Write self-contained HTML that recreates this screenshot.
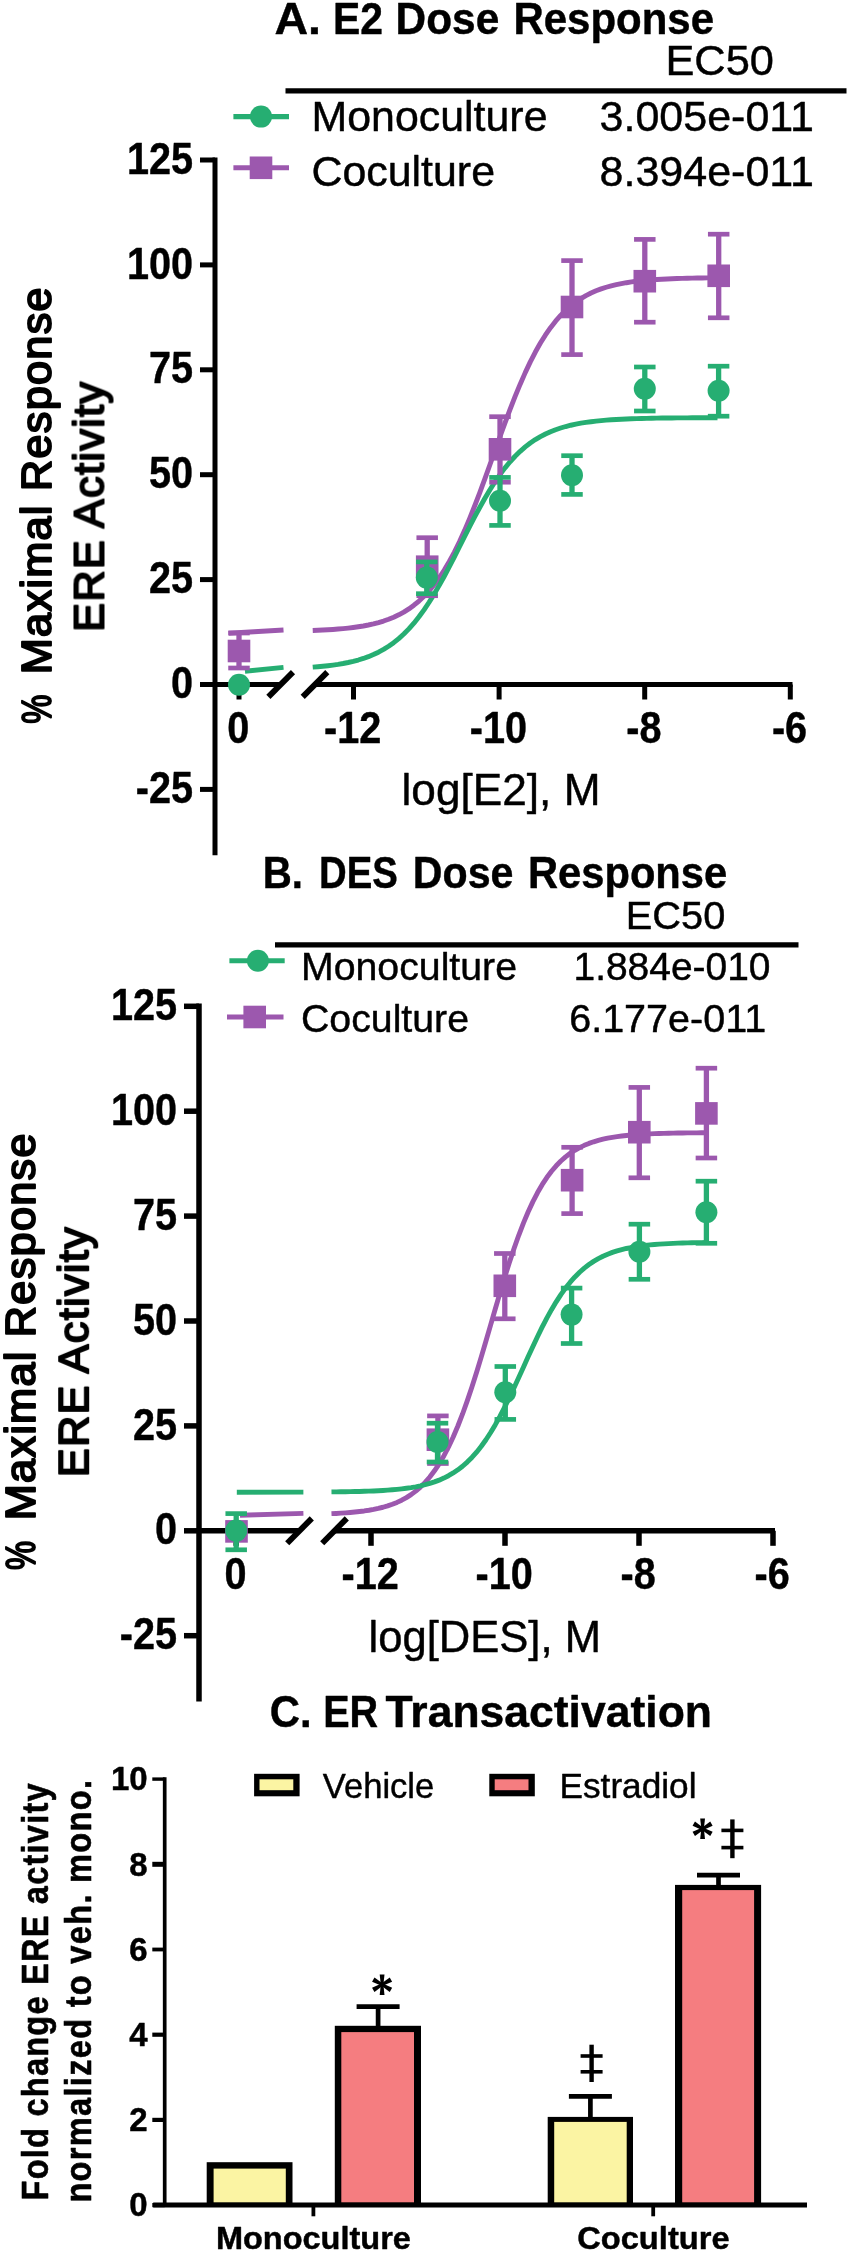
<!DOCTYPE html>
<html><head><meta charset="utf-8"><title>Figure</title>
<style>
html,body{margin:0;padding:0;background:#fff;}
body{width:850px;height:2253px;overflow:hidden;font-family:"Liberation Sans",sans-serif;}
svg{display:block;will-change:transform;}
text{font-family:"Liberation Sans",sans-serif;}
</style></head><body>
<svg width="850" height="2253" viewBox="0 0 850 2253" font-family="'Liberation Sans', sans-serif" fill="#000">
<defs><filter id="soft" filterUnits="userSpaceOnUse" x="0" y="0" width="850" height="2253"><feGaussianBlur stdDeviation="0.45"/></filter></defs>
<rect width="850" height="2253" fill="#fff"/>
<g filter="url(#soft)">
<text x="274.4" y="33.9" font-size="45" font-weight="bold" text-anchor="start" textLength="46.6" lengthAdjust="spacingAndGlyphs" stroke="#000" stroke-width="0.45" stroke-linejoin="round">A.</text>
<text x="333" y="33.9" font-size="45" font-weight="bold" text-anchor="start" textLength="50" lengthAdjust="spacingAndGlyphs" stroke="#000" stroke-width="0.45" stroke-linejoin="round">E2</text>
<text x="395.6" y="33.9" font-size="45" font-weight="bold" text-anchor="start" textLength="103.6" lengthAdjust="spacingAndGlyphs" stroke="#000" stroke-width="0.45" stroke-linejoin="round">Dose</text>
<text x="513.4" y="33.9" font-size="45" font-weight="bold" text-anchor="start" textLength="200.6" lengthAdjust="spacingAndGlyphs" stroke="#000" stroke-width="0.45" stroke-linejoin="round">Response</text>
<text x="665.4" y="75.3" font-size="42.89" font-weight="normal" text-anchor="start" textLength="108.5" lengthAdjust="spacingAndGlyphs" stroke="#000" stroke-width="0.45" stroke-linejoin="round">EC50</text>
<line x1="285.5" y1="90.8" x2="846.5" y2="90.8" stroke="#000" stroke-width="5.3" stroke-linecap="butt"/>
<text x="311.5" y="130.8" font-size="42.89" font-weight="normal" text-anchor="start" textLength="236" lengthAdjust="spacingAndGlyphs" stroke="#000" stroke-width="0.45" stroke-linejoin="round">Monoculture</text>
<text x="311.5" y="185.8" font-size="42.89" font-weight="normal" text-anchor="start" textLength="183.5" lengthAdjust="spacingAndGlyphs" stroke="#000" stroke-width="0.45" stroke-linejoin="round">Coculture</text>
<text x="599.5" y="130.8" font-size="42.89" font-weight="normal" text-anchor="start" textLength="214.5" lengthAdjust="spacingAndGlyphs" stroke="#000" stroke-width="0.45" stroke-linejoin="round">3.005e-011</text>
<text x="599.5" y="185.8" font-size="42.89" font-weight="normal" text-anchor="start" textLength="214.5" lengthAdjust="spacingAndGlyphs" stroke="#000" stroke-width="0.45" stroke-linejoin="round">8.394e-011</text>
<line x1="233.4" y1="116.6" x2="289" y2="116.6" stroke="#27AE72" stroke-width="5.1" stroke-linecap="butt"/>
<circle cx="261" cy="116.6" r="11" fill="#27AE72"/>
<line x1="233.4" y1="167.8" x2="289" y2="167.8" stroke="#9C59AE" stroke-width="5.1" stroke-linecap="butt"/>
<rect x="249.7" y="156.5" width="22.6" height="22.6" fill="#9C59AE"/>
<line x1="215" y1="157.5" x2="215" y2="855.2" stroke="#000" stroke-width="5" stroke-linecap="butt"/>
<line x1="200" y1="160" x2="215" y2="160" stroke="#000" stroke-width="5" stroke-linecap="butt"/>
<text transform="translate(193 173.6) scale(0.89 1)" font-size="44.5" font-weight="bold" text-anchor="end" stroke="#000" stroke-width="0.45" stroke-linejoin="round">125</text>
<line x1="200" y1="264.9" x2="215" y2="264.9" stroke="#000" stroke-width="5" stroke-linecap="butt"/>
<text transform="translate(193 278.5) scale(0.89 1)" font-size="44.5" font-weight="bold" text-anchor="end" stroke="#000" stroke-width="0.45" stroke-linejoin="round">100</text>
<line x1="200" y1="369.8" x2="215" y2="369.8" stroke="#000" stroke-width="5" stroke-linecap="butt"/>
<text transform="translate(193 383.4) scale(0.89 1)" font-size="44.5" font-weight="bold" text-anchor="end" stroke="#000" stroke-width="0.45" stroke-linejoin="round">75</text>
<line x1="200" y1="474.7" x2="215" y2="474.7" stroke="#000" stroke-width="5" stroke-linecap="butt"/>
<text transform="translate(193 488.3) scale(0.89 1)" font-size="44.5" font-weight="bold" text-anchor="end" stroke="#000" stroke-width="0.45" stroke-linejoin="round">50</text>
<line x1="200" y1="579.6" x2="215" y2="579.6" stroke="#000" stroke-width="5" stroke-linecap="butt"/>
<text transform="translate(193 593.2) scale(0.89 1)" font-size="44.5" font-weight="bold" text-anchor="end" stroke="#000" stroke-width="0.45" stroke-linejoin="round">25</text>
<line x1="200" y1="684.5" x2="215" y2="684.5" stroke="#000" stroke-width="5" stroke-linecap="butt"/>
<text transform="translate(193 698.1) scale(0.89 1)" font-size="44.5" font-weight="bold" text-anchor="end" stroke="#000" stroke-width="0.45" stroke-linejoin="round">0</text>
<line x1="200" y1="789.4" x2="215" y2="789.4" stroke="#000" stroke-width="5" stroke-linecap="butt"/>
<text transform="translate(193 803) scale(0.89 1)" font-size="44.5" font-weight="bold" text-anchor="end" stroke="#000" stroke-width="0.45" stroke-linejoin="round">-25</text>
<line x1="215" y1="684.5" x2="280.7" y2="684.5" stroke="#000" stroke-width="5" stroke-linecap="butt"/>
<line x1="315" y1="684.5" x2="792.5" y2="684.5" stroke="#000" stroke-width="5" stroke-linecap="butt"/>
<line x1="268.4" y1="696.9" x2="293" y2="672.1" stroke="#000" stroke-width="5.8" stroke-linecap="butt"/>
<line x1="302.7" y1="696.9" x2="327.3" y2="672.1" stroke="#000" stroke-width="5.8" stroke-linecap="butt"/>
<line x1="239" y1="684.5" x2="239" y2="699.5" stroke="#000" stroke-width="5" stroke-linecap="butt"/>
<text transform="translate(238.2 743.1) scale(0.9 1)" font-size="44" font-weight="bold" text-anchor="middle" stroke="#000" stroke-width="0.45" stroke-linejoin="round">0</text>
<line x1="353.5" y1="684.5" x2="353.5" y2="699.5" stroke="#000" stroke-width="5" stroke-linecap="butt"/>
<text transform="translate(352.7 743.1) scale(0.9 1)" font-size="44" font-weight="bold" text-anchor="middle" stroke="#000" stroke-width="0.45" stroke-linejoin="round">-12</text>
<line x1="499.1" y1="684.5" x2="499.1" y2="699.5" stroke="#000" stroke-width="5" stroke-linecap="butt"/>
<text transform="translate(498.3 743.1) scale(0.9 1)" font-size="44" font-weight="bold" text-anchor="middle" stroke="#000" stroke-width="0.45" stroke-linejoin="round">-10</text>
<line x1="644.7" y1="684.5" x2="644.7" y2="699.5" stroke="#000" stroke-width="5" stroke-linecap="butt"/>
<text transform="translate(643.9 743.1) scale(0.9 1)" font-size="44" font-weight="bold" text-anchor="middle" stroke="#000" stroke-width="0.45" stroke-linejoin="round">-8</text>
<line x1="790.3" y1="684.5" x2="790.3" y2="699.5" stroke="#000" stroke-width="5" stroke-linecap="butt"/>
<text transform="translate(789.5 743.1) scale(0.9 1)" font-size="44" font-weight="bold" text-anchor="middle" stroke="#000" stroke-width="0.45" stroke-linejoin="round">-6</text>
<text x="401.5" y="804.7" font-size="44.5" font-weight="normal" text-anchor="start" textLength="199" lengthAdjust="spacingAndGlyphs" stroke="#000" stroke-width="0.45" stroke-linejoin="round">log[E2], M</text>
<line x1="228.6" y1="633.3" x2="283.5" y2="630" stroke="#9C59AE" stroke-width="4.9" stroke-linecap="butt"/>
<polyline points="312.73,630.47 317.79,630.27 322.85,630.04 327.91,629.76 332.97,629.44 338.03,629.06 343.09,628.62 348.15,628.1 353.21,627.5 358.27,626.79 363.33,625.97 368.39,625 373.45,623.88 378.51,622.56 383.57,621.04 388.63,619.26 393.69,617.2 398.75,614.82 403.8,612.06 408.86,608.89 413.92,605.23 418.98,601.05 424.04,596.27 429.1,590.84 434.16,584.7 439.22,577.79 444.28,570.07 449.34,561.5 454.4,552.07 459.46,541.77 464.52,530.62 469.58,518.68 474.64,506.03 479.7,492.78 484.76,479.06 489.82,465.04 494.88,450.88 499.94,436.78 505,422.89 510.06,409.4 515.12,396.44 520.18,384.15 525.24,372.61 530.29,361.9 535.35,352.04 540.41,343.06 545.47,334.94 550.53,327.64 555.59,321.14 560.65,315.38 565.71,310.29 570.77,305.83 575.83,301.93 580.89,298.53 585.95,295.58 591.01,293.02 596.07,290.81 601.13,288.9 606.19,287.26 611.25,285.85 616.31,284.64 621.37,283.6 626.43,282.71 631.49,281.95 636.55,281.29 641.61,280.74 646.67,280.26 651.73,279.85 656.78,279.5 661.84,279.21 666.9,278.95 671.96,278.74 677.02,278.55 682.08,278.4 687.14,278.26 692.2,278.15 697.26,278.05 702.32,277.97 707.38,277.9 712.44,277.84 717.5,277.79" fill="none" stroke="#9C59AE" stroke-width="4.9" stroke-linejoin="round"/>
<line x1="245" y1="671.2" x2="283.5" y2="667.4" stroke="#27AE72" stroke-width="4.9" stroke-linecap="butt"/>
<polyline points="312.73,667.11 317.79,666.72 322.85,666.26 327.91,665.72 332.97,665.09 338.03,664.36 343.09,663.51 348.15,662.51 353.21,661.36 358.27,660.02 363.33,658.46 368.39,656.66 373.45,654.58 378.51,652.18 383.57,649.43 388.63,646.28 393.69,642.7 398.75,638.63 403.8,634.04 408.86,628.89 413.92,623.16 418.98,616.81 424.04,609.84 429.1,602.26 434.16,594.09 439.22,585.39 444.28,576.2 449.34,566.63 454.4,556.78 459.46,546.75 464.52,536.69 469.58,526.71 474.64,516.94 479.7,507.5 484.76,498.48 489.82,489.96 494.88,481.99 499.94,474.63 505,467.88 510.06,461.76 515.12,456.23 520.18,451.29 525.24,446.89 530.29,443 535.35,439.57 540.41,436.57 545.47,433.95 550.53,431.68 555.59,429.7 560.65,427.99 565.71,426.51 570.77,425.24 575.83,424.14 580.89,423.2 585.95,422.39 591.01,421.7 596.07,421.11 601.13,420.6 606.19,420.17 611.25,419.8 616.31,419.48 621.37,419.21 626.43,418.98 631.49,418.78 636.55,418.61 641.61,418.47 646.67,418.34 651.73,418.24 656.78,418.15 661.84,418.07 666.9,418.01 671.96,417.95 677.02,417.91 682.08,417.87 687.14,417.83 692.2,417.8 697.26,417.78 702.32,417.76 707.38,417.74 712.44,417.72 717.5,417.71" fill="none" stroke="#27AE72" stroke-width="4.9" stroke-linejoin="round"/>
<line x1="239" y1="633" x2="239" y2="668" stroke="#9C59AE" stroke-width="5.3" stroke-linecap="butt"/>
<line x1="228.25" y1="633" x2="249.75" y2="633" stroke="#9C59AE" stroke-width="4.7" stroke-linecap="butt"/>
<line x1="228.25" y1="668" x2="249.75" y2="668" stroke="#9C59AE" stroke-width="4.7" stroke-linecap="butt"/>
<rect x="227.7" y="639.7" width="22.6" height="22.6" fill="#9C59AE"/>
<line x1="427.2" y1="537.7" x2="427.2" y2="595.7" stroke="#9C59AE" stroke-width="5.3" stroke-linecap="butt"/>
<line x1="416.45" y1="537.7" x2="437.95" y2="537.7" stroke="#9C59AE" stroke-width="4.7" stroke-linecap="butt"/>
<line x1="416.45" y1="595.7" x2="437.95" y2="595.7" stroke="#9C59AE" stroke-width="4.7" stroke-linecap="butt"/>
<rect x="415.9" y="555.4" width="22.6" height="22.6" fill="#9C59AE"/>
<line x1="500" y1="416.7" x2="500" y2="482.2" stroke="#9C59AE" stroke-width="5.3" stroke-linecap="butt"/>
<line x1="489.25" y1="416.7" x2="510.75" y2="416.7" stroke="#9C59AE" stroke-width="4.7" stroke-linecap="butt"/>
<line x1="489.25" y1="482.2" x2="510.75" y2="482.2" stroke="#9C59AE" stroke-width="4.7" stroke-linecap="butt"/>
<rect x="488.7" y="438" width="22.6" height="22.6" fill="#9C59AE"/>
<line x1="572" y1="260.6" x2="572" y2="354.6" stroke="#9C59AE" stroke-width="5.3" stroke-linecap="butt"/>
<line x1="561.25" y1="260.6" x2="582.75" y2="260.6" stroke="#9C59AE" stroke-width="4.7" stroke-linecap="butt"/>
<line x1="561.25" y1="354.6" x2="582.75" y2="354.6" stroke="#9C59AE" stroke-width="4.7" stroke-linecap="butt"/>
<rect x="560.7" y="295.7" width="22.6" height="22.6" fill="#9C59AE"/>
<line x1="644.8" y1="239.4" x2="644.8" y2="322.2" stroke="#9C59AE" stroke-width="5.3" stroke-linecap="butt"/>
<line x1="634.05" y1="239.4" x2="655.55" y2="239.4" stroke="#9C59AE" stroke-width="4.7" stroke-linecap="butt"/>
<line x1="634.05" y1="322.2" x2="655.55" y2="322.2" stroke="#9C59AE" stroke-width="4.7" stroke-linecap="butt"/>
<rect x="633.5" y="269.9" width="22.6" height="22.6" fill="#9C59AE"/>
<line x1="718.7" y1="234.2" x2="718.7" y2="317.8" stroke="#9C59AE" stroke-width="5.3" stroke-linecap="butt"/>
<line x1="707.95" y1="234.2" x2="729.45" y2="234.2" stroke="#9C59AE" stroke-width="4.7" stroke-linecap="butt"/>
<line x1="707.95" y1="317.8" x2="729.45" y2="317.8" stroke="#9C59AE" stroke-width="4.7" stroke-linecap="butt"/>
<rect x="707.4" y="264.5" width="22.6" height="22.6" fill="#9C59AE"/>
<circle cx="239" cy="684.7" r="11" fill="#27AE72"/>
<line x1="426.8" y1="561.9" x2="426.8" y2="593.7" stroke="#27AE72" stroke-width="5.3" stroke-linecap="butt"/>
<line x1="416.05" y1="561.9" x2="437.55" y2="561.9" stroke="#27AE72" stroke-width="4.7" stroke-linecap="butt"/>
<line x1="416.05" y1="593.7" x2="437.55" y2="593.7" stroke="#27AE72" stroke-width="4.7" stroke-linecap="butt"/>
<circle cx="426.8" cy="577.6" r="11" fill="#27AE72"/>
<line x1="500" y1="477.4" x2="500" y2="525.4" stroke="#27AE72" stroke-width="5.3" stroke-linecap="butt"/>
<line x1="489.25" y1="477.4" x2="510.75" y2="477.4" stroke="#27AE72" stroke-width="4.7" stroke-linecap="butt"/>
<line x1="489.25" y1="525.4" x2="510.75" y2="525.4" stroke="#27AE72" stroke-width="4.7" stroke-linecap="butt"/>
<circle cx="500" cy="500.8" r="11" fill="#27AE72"/>
<line x1="572" y1="455.7" x2="572" y2="494.4" stroke="#27AE72" stroke-width="5.3" stroke-linecap="butt"/>
<line x1="561.25" y1="455.7" x2="582.75" y2="455.7" stroke="#27AE72" stroke-width="4.7" stroke-linecap="butt"/>
<line x1="561.25" y1="494.4" x2="582.75" y2="494.4" stroke="#27AE72" stroke-width="4.7" stroke-linecap="butt"/>
<circle cx="572" cy="475.2" r="11" fill="#27AE72"/>
<line x1="644.8" y1="367" x2="644.8" y2="411" stroke="#27AE72" stroke-width="5.3" stroke-linecap="butt"/>
<line x1="634.05" y1="367" x2="655.55" y2="367" stroke="#27AE72" stroke-width="4.7" stroke-linecap="butt"/>
<line x1="634.05" y1="411" x2="655.55" y2="411" stroke="#27AE72" stroke-width="4.7" stroke-linecap="butt"/>
<circle cx="644.8" cy="388.7" r="11" fill="#27AE72"/>
<line x1="718.6" y1="366.2" x2="718.6" y2="416.2" stroke="#27AE72" stroke-width="5.3" stroke-linecap="butt"/>
<line x1="707.85" y1="366.2" x2="729.35" y2="366.2" stroke="#27AE72" stroke-width="4.7" stroke-linecap="butt"/>
<line x1="707.85" y1="416.2" x2="729.35" y2="416.2" stroke="#27AE72" stroke-width="4.7" stroke-linecap="butt"/>
<circle cx="718.6" cy="390.8" r="11" fill="#27AE72"/>
<text transform="translate(50.6 709.3) rotate(-90) scale(0.78 1)" font-size="42" font-weight="normal" text-anchor="middle" stroke="#000" stroke-width="1.9" stroke-linejoin="round">%</text>
<text transform="translate(50.6 480.8) rotate(-90) scale(1.03 1)" font-size="42" font-weight="normal" text-anchor="middle" textLength="375.53" lengthAdjust="spacing" stroke="#000" stroke-width="1.9" stroke-linejoin="round">Maximal Response</text>
<text transform="translate(103.5 506.9) rotate(-90) scale(1.03 1)" font-size="42" font-weight="normal" text-anchor="middle" textLength="242.72" lengthAdjust="spacing" stroke="#000" stroke-width="1.9" stroke-linejoin="round">ERE Activity</text>
<text x="262.8" y="887.5" font-size="45" font-weight="bold" text-anchor="start" textLength="40.2" lengthAdjust="spacingAndGlyphs" stroke="#000" stroke-width="0.45" stroke-linejoin="round">B.</text>
<text x="319" y="887.5" font-size="45" font-weight="bold" text-anchor="start" textLength="78.8" lengthAdjust="spacingAndGlyphs" stroke="#000" stroke-width="0.45" stroke-linejoin="round">DES</text>
<text x="412.8" y="887.5" font-size="45" font-weight="bold" text-anchor="start" textLength="100.6" lengthAdjust="spacingAndGlyphs" stroke="#000" stroke-width="0.45" stroke-linejoin="round">Dose</text>
<text x="528" y="887.5" font-size="45" font-weight="bold" text-anchor="start" textLength="199.2" lengthAdjust="spacingAndGlyphs" stroke="#000" stroke-width="0.45" stroke-linejoin="round">Response</text>
<text x="625.8" y="928.5" font-size="39.26" font-weight="normal" text-anchor="start" textLength="99.5" lengthAdjust="spacingAndGlyphs" stroke="#000" stroke-width="0.45" stroke-linejoin="round">EC50</text>
<line x1="275" y1="944.8" x2="798.5" y2="944.8" stroke="#000" stroke-width="5.3" stroke-linecap="butt"/>
<text x="301" y="980" font-size="39.26" font-weight="normal" text-anchor="start" textLength="216" lengthAdjust="spacingAndGlyphs" stroke="#000" stroke-width="0.45" stroke-linejoin="round">Monoculture</text>
<text x="301" y="1032.4" font-size="39.26" font-weight="normal" text-anchor="start" textLength="168" lengthAdjust="spacingAndGlyphs" stroke="#000" stroke-width="0.45" stroke-linejoin="round">Coculture</text>
<text x="573.5" y="980" font-size="39.26" font-weight="normal" text-anchor="start" textLength="197" lengthAdjust="spacingAndGlyphs" stroke="#000" stroke-width="0.45" stroke-linejoin="round">1.884e-010</text>
<text x="569.2" y="1032.4" font-size="39.26" font-weight="normal" text-anchor="start" textLength="197" lengthAdjust="spacingAndGlyphs" stroke="#000" stroke-width="0.45" stroke-linejoin="round">6.177e-011</text>
<line x1="229.4" y1="960.7" x2="284.7" y2="960.7" stroke="#27AE72" stroke-width="5.1" stroke-linecap="butt"/>
<circle cx="257.9" cy="960.7" r="11" fill="#27AE72"/>
<line x1="227" y1="1017" x2="283.5" y2="1017" stroke="#9C59AE" stroke-width="5.1" stroke-linecap="butt"/>
<rect x="243.4" y="1005.7" width="22.6" height="22.6" fill="#9C59AE"/>
<line x1="199" y1="1003.55" x2="199" y2="1701.6" stroke="#000" stroke-width="5.5" stroke-linecap="butt"/>
<line x1="184" y1="1006.3" x2="199" y2="1006.3" stroke="#000" stroke-width="5.5" stroke-linecap="butt"/>
<text transform="translate(177 1019.9) scale(0.89 1)" font-size="44.5" font-weight="bold" text-anchor="end" stroke="#000" stroke-width="0.45" stroke-linejoin="round">125</text>
<line x1="184" y1="1111.2" x2="199" y2="1111.2" stroke="#000" stroke-width="5.5" stroke-linecap="butt"/>
<text transform="translate(177 1124.8) scale(0.89 1)" font-size="44.5" font-weight="bold" text-anchor="end" stroke="#000" stroke-width="0.45" stroke-linejoin="round">100</text>
<line x1="184" y1="1216.1" x2="199" y2="1216.1" stroke="#000" stroke-width="5.5" stroke-linecap="butt"/>
<text transform="translate(177 1229.7) scale(0.89 1)" font-size="44.5" font-weight="bold" text-anchor="end" stroke="#000" stroke-width="0.45" stroke-linejoin="round">75</text>
<line x1="184" y1="1321" x2="199" y2="1321" stroke="#000" stroke-width="5.5" stroke-linecap="butt"/>
<text transform="translate(177 1334.6) scale(0.89 1)" font-size="44.5" font-weight="bold" text-anchor="end" stroke="#000" stroke-width="0.45" stroke-linejoin="round">50</text>
<line x1="184" y1="1425.9" x2="199" y2="1425.9" stroke="#000" stroke-width="5.5" stroke-linecap="butt"/>
<text transform="translate(177 1439.5) scale(0.89 1)" font-size="44.5" font-weight="bold" text-anchor="end" stroke="#000" stroke-width="0.45" stroke-linejoin="round">25</text>
<line x1="184" y1="1530.8" x2="199" y2="1530.8" stroke="#000" stroke-width="5.5" stroke-linecap="butt"/>
<text transform="translate(177 1544.4) scale(0.89 1)" font-size="44.5" font-weight="bold" text-anchor="end" stroke="#000" stroke-width="0.45" stroke-linejoin="round">0</text>
<line x1="184" y1="1635.7" x2="199" y2="1635.7" stroke="#000" stroke-width="5.5" stroke-linecap="butt"/>
<text transform="translate(177 1649.3) scale(0.89 1)" font-size="44.5" font-weight="bold" text-anchor="end" stroke="#000" stroke-width="0.45" stroke-linejoin="round">-25</text>
<line x1="199" y1="1530.8" x2="299.5" y2="1530.8" stroke="#000" stroke-width="5.5" stroke-linecap="butt"/>
<line x1="334.5" y1="1530.8" x2="775" y2="1530.8" stroke="#000" stroke-width="5.5" stroke-linecap="butt"/>
<line x1="287.2" y1="1543.2" x2="311.8" y2="1518.4" stroke="#000" stroke-width="5.8" stroke-linecap="butt"/>
<line x1="322.2" y1="1543.2" x2="346.8" y2="1518.4" stroke="#000" stroke-width="5.8" stroke-linecap="butt"/>
<line x1="236.2" y1="1530.8" x2="236.2" y2="1545.8" stroke="#000" stroke-width="5.5" stroke-linecap="butt"/>
<text transform="translate(235.4 1589.4) scale(0.9 1)" font-size="44" font-weight="bold" text-anchor="middle" stroke="#000" stroke-width="0.45" stroke-linejoin="round">0</text>
<line x1="371" y1="1530.8" x2="371" y2="1545.8" stroke="#000" stroke-width="5.5" stroke-linecap="butt"/>
<text transform="translate(370.2 1589.4) scale(0.9 1)" font-size="44" font-weight="bold" text-anchor="middle" stroke="#000" stroke-width="0.45" stroke-linejoin="round">-12</text>
<line x1="505" y1="1530.8" x2="505" y2="1545.8" stroke="#000" stroke-width="5.5" stroke-linecap="butt"/>
<text transform="translate(504.2 1589.4) scale(0.9 1)" font-size="44" font-weight="bold" text-anchor="middle" stroke="#000" stroke-width="0.45" stroke-linejoin="round">-10</text>
<line x1="639" y1="1530.8" x2="639" y2="1545.8" stroke="#000" stroke-width="5.5" stroke-linecap="butt"/>
<text transform="translate(638.2 1589.4) scale(0.9 1)" font-size="44" font-weight="bold" text-anchor="middle" stroke="#000" stroke-width="0.45" stroke-linejoin="round">-8</text>
<line x1="773" y1="1530.8" x2="773" y2="1545.8" stroke="#000" stroke-width="5.5" stroke-linecap="butt"/>
<text transform="translate(772.2 1589.4) scale(0.9 1)" font-size="44" font-weight="bold" text-anchor="middle" stroke="#000" stroke-width="0.45" stroke-linejoin="round">-6</text>
<text x="368.5" y="1651.6" font-size="44.5" font-weight="normal" text-anchor="start" textLength="232.5" lengthAdjust="spacingAndGlyphs" stroke="#000" stroke-width="0.45" stroke-linejoin="round">log[DES], M</text>
<line x1="240" y1="1515.3" x2="303.4" y2="1513.4" stroke="#9C59AE" stroke-width="4.9" stroke-linecap="butt"/>
<polyline points="331.47,1513.65 336.15,1513.43 340.83,1513.17 345.51,1512.86 350.2,1512.49 354.88,1512.06 359.56,1511.55 364.24,1510.95 368.92,1510.24 373.6,1509.4 378.29,1508.42 382.97,1507.25 387.65,1505.89 392.33,1504.28 397.01,1502.4 401.69,1500.2 406.38,1497.62 411.06,1494.62 415.74,1491.12 420.42,1487.07 425.1,1482.39 429.78,1477.01 434.47,1470.85 439.15,1463.83 443.83,1455.89 448.51,1446.96 453.19,1437.01 457.87,1426.01 462.56,1413.98 467.24,1400.94 471.92,1386.99 476.6,1372.24 481.28,1356.84 485.96,1340.99 490.65,1324.89 495.33,1308.78 500.01,1292.87 504.69,1277.4 509.37,1262.54 514.05,1248.46 518.74,1235.29 523.42,1223.11 528.1,1211.96 532.78,1201.86 537.46,1192.79 542.14,1184.71 546.82,1177.56 551.51,1171.28 556.19,1165.79 560.87,1161.02 565.55,1156.88 570.23,1153.31 574.91,1150.24 579.6,1147.6 584.28,1145.35 588.96,1143.42 593.64,1141.78 598.32,1140.38 603,1139.19 607.69,1138.18 612.37,1137.33 617.05,1136.6 621.73,1135.98 626.41,1135.46 631.09,1135.02 635.78,1134.65 640.46,1134.33 645.14,1134.06 649.82,1133.83 654.5,1133.64 659.18,1133.48 663.87,1133.34 668.55,1133.23 673.23,1133.13 677.91,1133.05 682.59,1132.98 687.27,1132.92 691.96,1132.87 696.64,1132.83 701.32,1132.79 706,1132.76" fill="none" stroke="#9C59AE" stroke-width="4.9" stroke-linejoin="round"/>
<line x1="236.8" y1="1492.3" x2="303.4" y2="1492.1" stroke="#27AE72" stroke-width="4.9" stroke-linecap="butt"/>
<polyline points="331.47,1491.92 336.15,1491.87 340.83,1491.81 345.51,1491.74 350.2,1491.65 354.88,1491.56 359.56,1491.44 364.24,1491.31 368.92,1491.15 373.6,1490.96 378.29,1490.74 382.97,1490.48 387.65,1490.17 392.33,1489.81 397.01,1489.38 401.69,1488.88 406.38,1488.29 411.06,1487.6 415.74,1486.79 420.42,1485.84 425.1,1484.73 429.78,1483.43 434.47,1481.91 439.15,1480.15 443.83,1478.1 448.51,1475.73 453.19,1472.98 457.87,1469.83 462.56,1466.22 467.24,1462.1 471.92,1457.43 476.6,1452.17 481.28,1446.28 485.96,1439.73 490.65,1432.53 495.33,1424.68 500.01,1416.21 504.69,1407.17 509.37,1397.64 514.05,1387.72 518.74,1377.52 523.42,1367.19 528.1,1356.85 532.78,1346.65 537.46,1336.73 542.14,1327.19 546.82,1318.15 551.51,1309.68 556.19,1301.82 560.87,1294.62 565.55,1288.07 570.23,1282.18 574.91,1276.91 579.6,1272.24 584.28,1268.12 588.96,1264.5 593.64,1261.35 598.32,1258.6 603,1256.23 607.69,1254.18 612.37,1252.41 617.05,1250.89 621.73,1249.59 626.41,1248.48 631.09,1247.53 635.78,1246.72 640.46,1246.03 645.14,1245.44 649.82,1244.93 654.5,1244.51 659.18,1244.15 663.87,1243.84 668.55,1243.58 673.23,1243.35 677.91,1243.17 682.59,1243.01 687.27,1242.87 691.96,1242.76 696.64,1242.66 701.32,1242.58 706,1242.5" fill="none" stroke="#27AE72" stroke-width="4.9" stroke-linejoin="round"/>
<rect x="225.2" y="1520.1" width="22.6" height="22.6" fill="#9C59AE"/>
<line x1="437.9" y1="1415.9" x2="437.9" y2="1463.5" stroke="#9C59AE" stroke-width="5.3" stroke-linecap="butt"/>
<line x1="427.15" y1="1415.9" x2="448.65" y2="1415.9" stroke="#9C59AE" stroke-width="4.7" stroke-linecap="butt"/>
<line x1="427.15" y1="1463.5" x2="448.65" y2="1463.5" stroke="#9C59AE" stroke-width="4.7" stroke-linecap="butt"/>
<rect x="426.6" y="1428.4" width="22.6" height="22.6" fill="#9C59AE"/>
<line x1="504.8" y1="1253.5" x2="504.8" y2="1318.8" stroke="#9C59AE" stroke-width="5.3" stroke-linecap="butt"/>
<line x1="494.05" y1="1253.5" x2="515.55" y2="1253.5" stroke="#9C59AE" stroke-width="4.7" stroke-linecap="butt"/>
<line x1="494.05" y1="1318.8" x2="515.55" y2="1318.8" stroke="#9C59AE" stroke-width="4.7" stroke-linecap="butt"/>
<rect x="493.5" y="1274.5" width="22.6" height="22.6" fill="#9C59AE"/>
<line x1="572.1" y1="1147.3" x2="572.1" y2="1213.6" stroke="#9C59AE" stroke-width="5.3" stroke-linecap="butt"/>
<line x1="561.35" y1="1147.3" x2="582.85" y2="1147.3" stroke="#9C59AE" stroke-width="4.7" stroke-linecap="butt"/>
<line x1="561.35" y1="1213.6" x2="582.85" y2="1213.6" stroke="#9C59AE" stroke-width="4.7" stroke-linecap="butt"/>
<rect x="560.8" y="1168.9" width="22.6" height="22.6" fill="#9C59AE"/>
<line x1="639.3" y1="1087.4" x2="639.3" y2="1177.8" stroke="#9C59AE" stroke-width="5.3" stroke-linecap="butt"/>
<line x1="628.55" y1="1087.4" x2="650.05" y2="1087.4" stroke="#9C59AE" stroke-width="4.7" stroke-linecap="butt"/>
<line x1="628.55" y1="1177.8" x2="650.05" y2="1177.8" stroke="#9C59AE" stroke-width="4.7" stroke-linecap="butt"/>
<rect x="628" y="1120.9" width="22.6" height="22.6" fill="#9C59AE"/>
<line x1="706.4" y1="1068.2" x2="706.4" y2="1158" stroke="#9C59AE" stroke-width="5.3" stroke-linecap="butt"/>
<line x1="695.65" y1="1068.2" x2="717.15" y2="1068.2" stroke="#9C59AE" stroke-width="4.7" stroke-linecap="butt"/>
<line x1="695.65" y1="1158" x2="717.15" y2="1158" stroke="#9C59AE" stroke-width="4.7" stroke-linecap="butt"/>
<rect x="695.1" y="1102.1" width="22.6" height="22.6" fill="#9C59AE"/>
<line x1="236.2" y1="1513.6" x2="236.2" y2="1549.8" stroke="#27AE72" stroke-width="5.3" stroke-linecap="butt"/>
<line x1="225.45" y1="1513.6" x2="246.95" y2="1513.6" stroke="#27AE72" stroke-width="4.7" stroke-linecap="butt"/>
<line x1="225.45" y1="1549.8" x2="246.95" y2="1549.8" stroke="#27AE72" stroke-width="4.7" stroke-linecap="butt"/>
<circle cx="236.2" cy="1530.6" r="11" fill="#27AE72"/>
<line x1="437.5" y1="1423.2" x2="437.5" y2="1462" stroke="#27AE72" stroke-width="5.3" stroke-linecap="butt"/>
<line x1="426.75" y1="1423.2" x2="448.25" y2="1423.2" stroke="#27AE72" stroke-width="4.7" stroke-linecap="butt"/>
<line x1="426.75" y1="1462" x2="448.25" y2="1462" stroke="#27AE72" stroke-width="4.7" stroke-linecap="butt"/>
<circle cx="437.5" cy="1442" r="11" fill="#27AE72"/>
<line x1="505.3" y1="1366.5" x2="505.3" y2="1419.4" stroke="#27AE72" stroke-width="5.3" stroke-linecap="butt"/>
<line x1="494.55" y1="1366.5" x2="516.05" y2="1366.5" stroke="#27AE72" stroke-width="4.7" stroke-linecap="butt"/>
<line x1="494.55" y1="1419.4" x2="516.05" y2="1419.4" stroke="#27AE72" stroke-width="4.7" stroke-linecap="butt"/>
<circle cx="505.3" cy="1392.2" r="11" fill="#27AE72"/>
<line x1="571.6" y1="1288.1" x2="571.6" y2="1343.5" stroke="#27AE72" stroke-width="5.3" stroke-linecap="butt"/>
<line x1="560.85" y1="1288.1" x2="582.35" y2="1288.1" stroke="#27AE72" stroke-width="4.7" stroke-linecap="butt"/>
<line x1="560.85" y1="1343.5" x2="582.35" y2="1343.5" stroke="#27AE72" stroke-width="4.7" stroke-linecap="butt"/>
<circle cx="571.6" cy="1314.6" r="11" fill="#27AE72"/>
<line x1="639.4" y1="1224.2" x2="639.4" y2="1279.3" stroke="#27AE72" stroke-width="5.3" stroke-linecap="butt"/>
<line x1="628.65" y1="1224.2" x2="650.15" y2="1224.2" stroke="#27AE72" stroke-width="4.7" stroke-linecap="butt"/>
<line x1="628.65" y1="1279.3" x2="650.15" y2="1279.3" stroke="#27AE72" stroke-width="4.7" stroke-linecap="butt"/>
<circle cx="639.4" cy="1251.8" r="11" fill="#27AE72"/>
<line x1="706.4" y1="1181.2" x2="706.4" y2="1243.3" stroke="#27AE72" stroke-width="5.3" stroke-linecap="butt"/>
<line x1="695.65" y1="1181.2" x2="717.15" y2="1181.2" stroke="#27AE72" stroke-width="4.7" stroke-linecap="butt"/>
<line x1="695.65" y1="1243.3" x2="717.15" y2="1243.3" stroke="#27AE72" stroke-width="4.7" stroke-linecap="butt"/>
<circle cx="706.4" cy="1212.2" r="11" fill="#27AE72"/>
<text transform="translate(35.3 1555.4) rotate(-90) scale(0.78 1)" font-size="42" font-weight="normal" text-anchor="middle" stroke="#000" stroke-width="1.9" stroke-linejoin="round">%</text>
<text transform="translate(35.3 1326.9) rotate(-90) scale(1.03 1)" font-size="42" font-weight="normal" text-anchor="middle" textLength="375.53" lengthAdjust="spacing" stroke="#000" stroke-width="1.9" stroke-linejoin="round">Maximal Response</text>
<text transform="translate(88.2 1352.2) rotate(-90) scale(1.03 1)" font-size="42" font-weight="normal" text-anchor="middle" textLength="242.72" lengthAdjust="spacing" stroke="#000" stroke-width="1.9" stroke-linejoin="round">ERE Activity</text>
<text x="269.8" y="1726.6" font-size="45" font-weight="bold" text-anchor="start" textLength="41.8" lengthAdjust="spacingAndGlyphs" stroke="#000" stroke-width="0.45" stroke-linejoin="round">C.</text>
<text x="323.2" y="1726.6" font-size="45" font-weight="bold" text-anchor="start" textLength="55" lengthAdjust="spacingAndGlyphs" stroke="#000" stroke-width="0.45" stroke-linejoin="round">ER</text>
<text x="385.6" y="1726.6" font-size="45" font-weight="bold" text-anchor="start" textLength="326.4" lengthAdjust="spacingAndGlyphs" stroke="#000" stroke-width="0.45" stroke-linejoin="round">Transactivation</text>
<line x1="378.1" y1="2006.6" x2="378.1" y2="2028.8" stroke="#000" stroke-width="4.7" stroke-linecap="butt"/>
<line x1="356.6" y1="2006.6" x2="399.6" y2="2006.6" stroke="#000" stroke-width="4.7" stroke-linecap="butt"/>
<line x1="590.4" y1="2096.3" x2="590.4" y2="2119.2" stroke="#000" stroke-width="4.7" stroke-linecap="butt"/>
<line x1="568.9" y1="2096.3" x2="611.9" y2="2096.3" stroke="#000" stroke-width="4.7" stroke-linecap="butt"/>
<line x1="718.5" y1="1875.1" x2="718.5" y2="1887.8" stroke="#000" stroke-width="4.7" stroke-linecap="butt"/>
<line x1="697" y1="1875.1" x2="740" y2="1875.1" stroke="#000" stroke-width="4.7" stroke-linecap="butt"/>
<rect x="206.7" y="2162.2" width="85.8" height="42.9" fill="#000"/>
<rect x="213.6" y="2168.6" width="72.2" height="34" fill="#FBF4A3"/>
<rect x="334.8" y="2025.8" width="86.2" height="179.3" fill="#000"/>
<rect x="341.3" y="2032.1" width="72.7" height="170.5" fill="#F57D80"/>
<rect x="547.7" y="2116.9" width="85.3" height="88.2" fill="#000"/>
<rect x="554.2" y="2121.9" width="72.5" height="80.7" fill="#FBF4A3"/>
<rect x="675" y="1884.9" width="86.1" height="320.2" fill="#000"/>
<rect x="682.2" y="1890.1" width="71.9" height="312.5" fill="#F57D80"/>
<polygon points="383.4,1984.7 384.5,1974.5 379.7,1974.5 380.8,1984.7" fill="#000"/>
<polygon points="382.75,1985.83 392.13,1981.68 389.73,1977.52 381.45,1983.57" fill="#000"/>
<polygon points="382.75,1983.57 374.47,1977.52 372.07,1981.68 381.45,1985.83" fill="#000"/>
<polygon points="381.45,1983.57 372.07,1987.72 374.47,1991.88 382.75,1985.83" fill="#000"/>
<polygon points="380.8,1984.7 379.7,1994.9 384.5,1994.9 383.4,1984.7" fill="#000"/>
<polygon points="381.45,1985.83 389.73,1991.88 392.13,1987.72 382.75,1983.57" fill="#000"/>
<circle cx="382.1" cy="1984.7" r="2.4" fill="#000"/>
<polygon points="703.9,1828.8 705,1818.6 700.2,1818.6 701.3,1828.8" fill="#000"/>
<polygon points="703.25,1829.93 712.63,1825.78 710.23,1821.62 701.95,1827.67" fill="#000"/>
<polygon points="703.25,1827.67 694.97,1821.62 692.57,1825.78 701.95,1829.93" fill="#000"/>
<polygon points="701.95,1827.67 692.57,1831.82 694.97,1835.98 703.25,1829.93" fill="#000"/>
<polygon points="701.3,1828.8 700.2,1839 705,1839 703.9,1828.8" fill="#000"/>
<polygon points="701.95,1829.93 710.23,1835.98 712.63,1831.82 703.25,1827.67" fill="#000"/>
<circle cx="702.6" cy="1828.8" r="2.4" fill="#000"/>
<line x1="732.4" y1="1819.4" x2="732.4" y2="1858.2" stroke="#000" stroke-width="4.4" stroke-linecap="butt"/>
<line x1="721.4" y1="1830.4" x2="743.4" y2="1830.4" stroke="#000" stroke-width="3.6" stroke-linecap="butt"/>
<line x1="721.4" y1="1847.6" x2="743.4" y2="1847.6" stroke="#000" stroke-width="3.6" stroke-linecap="butt"/>
<line x1="591.6" y1="2044.7" x2="591.6" y2="2082" stroke="#000" stroke-width="4.4" stroke-linecap="butt"/>
<line x1="580.6" y1="2056" x2="602.6" y2="2056" stroke="#000" stroke-width="3.6" stroke-linecap="butt"/>
<line x1="580.6" y1="2071.8" x2="602.6" y2="2071.8" stroke="#000" stroke-width="3.6" stroke-linecap="butt"/>
<line x1="164.7" y1="1777.3" x2="164.7" y2="2205.1" stroke="#000" stroke-width="3.7" stroke-linecap="butt"/>
<line x1="152.3" y1="2205.1" x2="164.7" y2="2205.1" stroke="#000" stroke-width="4.2" stroke-linecap="butt"/>
<text transform="translate(147.7 2216.3) scale(1 1)" font-size="33" font-weight="bold" text-anchor="end" stroke="#000" stroke-width="0.45" stroke-linejoin="round">0</text>
<line x1="152.3" y1="2119.9" x2="164.7" y2="2119.9" stroke="#000" stroke-width="4.2" stroke-linecap="butt"/>
<text transform="translate(147.7 2131.1) scale(1 1)" font-size="33" font-weight="bold" text-anchor="end" stroke="#000" stroke-width="0.45" stroke-linejoin="round">2</text>
<line x1="152.3" y1="2034.7" x2="164.7" y2="2034.7" stroke="#000" stroke-width="4.2" stroke-linecap="butt"/>
<text transform="translate(147.7 2045.9) scale(1 1)" font-size="33" font-weight="bold" text-anchor="end" stroke="#000" stroke-width="0.45" stroke-linejoin="round">4</text>
<line x1="152.3" y1="1949.5" x2="164.7" y2="1949.5" stroke="#000" stroke-width="3.8" stroke-linecap="butt"/>
<text transform="translate(147.7 1960.7) scale(1 1)" font-size="33" font-weight="bold" text-anchor="end" stroke="#000" stroke-width="0.45" stroke-linejoin="round">6</text>
<line x1="152.3" y1="1864.3" x2="164.7" y2="1864.3" stroke="#000" stroke-width="5" stroke-linecap="butt"/>
<text transform="translate(147.7 1875.5) scale(1 1)" font-size="33" font-weight="bold" text-anchor="end" stroke="#000" stroke-width="0.45" stroke-linejoin="round">8</text>
<line x1="152.3" y1="1779.1" x2="164.7" y2="1779.1" stroke="#000" stroke-width="3.4" stroke-linecap="butt"/>
<text transform="translate(147.7 1790.3) scale(1 1)" font-size="33" font-weight="bold" text-anchor="end" stroke="#000" stroke-width="0.45" stroke-linejoin="round">10</text>
<line x1="153.2" y1="2205.1" x2="807" y2="2205.1" stroke="#000" stroke-width="5" stroke-linecap="butt"/>
<line x1="313.4" y1="2205.1" x2="313.4" y2="2216.3" stroke="#000" stroke-width="3.8" stroke-linecap="butt"/>
<line x1="653.2" y1="2205.1" x2="653.2" y2="2216.3" stroke="#000" stroke-width="3.8" stroke-linecap="butt"/>
<text x="313.4" y="2248.8" font-size="31.5" font-weight="bold" text-anchor="middle" textLength="195" lengthAdjust="spacingAndGlyphs" stroke="#000" stroke-width="0.45" stroke-linejoin="round">Monoculture</text>
<text x="653.4" y="2248.8" font-size="31.5" font-weight="bold" text-anchor="middle" textLength="152.5" lengthAdjust="spacingAndGlyphs" stroke="#000" stroke-width="0.45" stroke-linejoin="round">Coculture</text>
<rect x="254.1" y="1773.8" width="45.5" height="22.5" fill="#000"/>
<rect x="259.5" y="1779.3" width="33.8" height="10.9" fill="#FBF4A3"/>
<rect x="489.3" y="1773.8" width="45.5" height="22.5" fill="#000"/>
<rect x="494.7" y="1779.3" width="33.8" height="10.9" fill="#F57D80"/>
<text x="322.8" y="1797.5" font-size="34.6" font-weight="normal" text-anchor="start" textLength="111.5" lengthAdjust="spacingAndGlyphs" stroke="#000" stroke-width="0.45" stroke-linejoin="round">Vehicle</text>
<text x="559.5" y="1797.5" font-size="34.6" font-weight="normal" text-anchor="start" textLength="137" lengthAdjust="spacingAndGlyphs" stroke="#000" stroke-width="0.45" stroke-linejoin="round">Estradiol</text>
<text transform="translate(48.2 1991.9) rotate(-90) scale(0.88 1)" font-size="37" font-weight="bold" text-anchor="middle" textLength="473.86" lengthAdjust="spacing" stroke="#000" stroke-width="0.6" stroke-linejoin="round">Fold change ERE activity</text>
<text transform="translate(90.6 1991.3) rotate(-90) scale(0.88 1)" font-size="37" font-weight="bold" text-anchor="middle" textLength="480.23" lengthAdjust="spacing" stroke="#000" stroke-width="0.6" stroke-linejoin="round">normalized to veh. mono.</text>
</g>
</svg>
</body></html>
